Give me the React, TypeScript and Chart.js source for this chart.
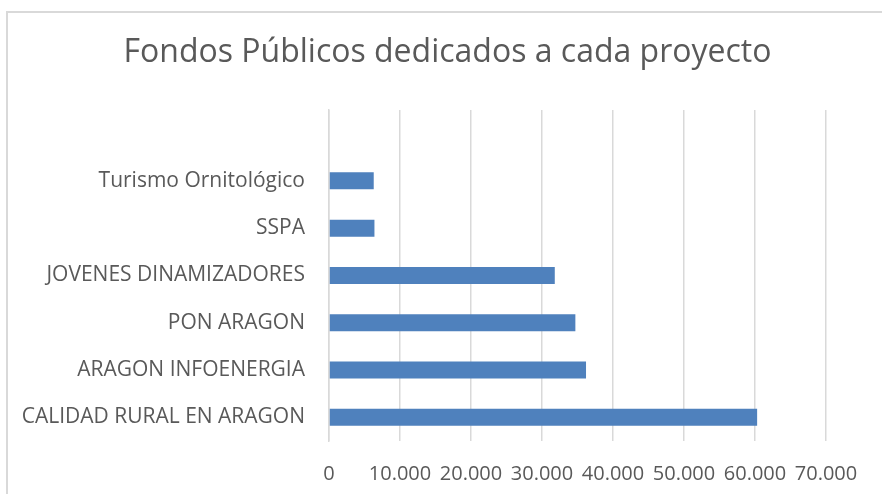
import React, { useEffect, useRef } from "react";
import { Chart, registerables } from "chart.js";

Chart.register(...registerables);

const TITLE = "Fondos Públicos dedicados a cada proyecto";
// Excel order (first category drawn at the bottom); last row of the range is empty
const categories = [
  "CALIDAD RURAL EN ARAGON",
  "ARAGON INFOENERGIA",
  "PON ARAGON",
  "JOVENES DINAMIZADORES",
  "SSPA",
  "Turismo Ornitológico",
  "",
];
const fondos = [60300, 36200, 34700, 31800, 6400, 6300, null];
const xMin = 0;
const xMax = 70000;
const xStep = 10000;

const fmt = (v: number) => String(Math.round(v)).replace(/\B(?=(\d{3})+(?!\d))/g, ".");

export default function App() {
  const ref = useRef<HTMLCanvasElement | null>(null);
  useEffect(() => {
    if (!ref.current) return;
    const gray = "#595959";
    const font = "'Open Sans', sans-serif";
    const chart = new Chart(ref.current, {
      type: "bar",
      data: {
        labels: categories,
        datasets: [
          {
            label: "Fondos",
            data: fondos,
            backgroundColor: "#4f81bd",
            borderWidth: 0,
            barPercentage: 0.36,
            categoryPercentage: 1,
          },
        ],
      },
      options: {
        indexAxis: "y",
        animation: false,
        responsive: false,
        maintainAspectRatio: false,
        layout: { padding: { left: 13, right: 0, top: 0, bottom: 0 } },
        plugins: {
          legend: { display: false },
          tooltip: { enabled: false },
          title: {
            display: true,
            text: TITLE,
            color: gray,
            font: { family: font, size: 32, weight: "normal" },
            padding: { top: 33.5, bottom: 38 },
          },
        },
        scales: {
          x: {
            type: "linear",
            min: xMin,
            max: xMax,
            ticks: {
              stepSize: xStep,
              autoSkip: false,
              maxRotation: 0,
              color: gray,
              font: { family: font, size: 20 },
              padding: 21,
              callback: (v: any) => fmt(Number(v)),
            },
            grid: { color: "#d9d9d9", lineWidth: 1.5, drawTicks: false },
            border: { display: false },
            afterFit: (s: any) => {
              s.height = 53;
              s.paddingRight = 56;
            },
          },
          y: {
            type: "category",
            reverse: true,
            offset: true,
            ticks: {
              autoSkip: false,
              color: gray,
              font: { family: font, size: 21 },
              padding: 24,
            },
            grid: { display: false, drawTicks: false },
            border: { display: true, color: "#d9d9d9", width: 1.5 },
            afterFit: (s: any) => {
              s.width = 316;
            },
          },
        },
      },
    });
    return () => chart.destroy();
  }, []);
  return (
    <div style={{ position: "absolute", left: 0, top: 0, width: 882, height: 494, overflow: "hidden", background: "#fff" }}>
      <canvas ref={ref} width={882} height={494} style={{ position: "absolute", left: 0, top: 0, width: 882, height: 494 }} />
      <div
        style={{
          position: "absolute",
          left: 6,
          top: 11,
          width: 900,
          height: 500,
          border: "2px solid #d9d9d9",
          pointerEvents: "none",
        }}
      />
    </div>
  );
}
